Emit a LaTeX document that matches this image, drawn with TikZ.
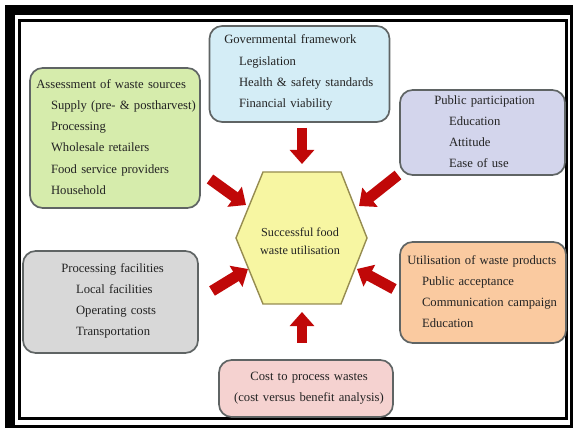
\documentclass[tikz,border=0pt]{standalone}
\usepackage{fontspec}
\setmainfont{Liberation Serif}
\definecolor{assessgreen}{RGB}{214, 236, 172}
\definecolor{govblue}{RGB}{212, 237, 246}
\definecolor{publicpurple}{RGB}{211, 213, 236}
\definecolor{facilgray}{RGB}{216, 216, 216}
\definecolor{utilorange}{RGB}{250, 202, 160}
\definecolor{costpink}{RGB}{245, 210, 208}
\definecolor{hubyellow}{RGB}{247, 246, 162}
\definecolor{hubedge}{RGB}{150, 140, 80}
\definecolor{boxedge}{RGB}{95, 100, 100}
\definecolor{arrowred}{RGB}{192, 8, 8}
\definecolor{inkgray}{RGB}{35, 35, 35}
\usetikzlibrary{shapes, arrows.meta, positioning, calc}
\newcommand{\indentx}{\hspace*{10.5pt}}

\tikzset{
  wastebox/.style={draw=boxedge, line width=1.2pt, rounded corners=9pt, inner sep=0pt},
  boxtext/.style={anchor=west, text width=4.2cm, align=left, inner sep=0pt, text=inkgray, font=\fontsize{9}{15}\selectfont},
  bigarrow/.style={-{Triangle[width=17pt,length=10pt]}, line width=7.8pt, draw=arrowred}
}

\begin{document}
\begin{tikzpicture}
  \useasboundingbox (0,0) rectangle (14.4,10.775);

  % Frame
  \fill[black] (0.125,0.075) rectangle (14.325,10.65);
  \fill[white] (0.375,0.15) rectangle (14.25,10.4);
  \draw[line width=2.1pt] (0.4875,0.3125) rectangle (14.1625,10.2625);

  % Assessment of waste sources
  \node[wastebox, fill=assessgreen, minimum width=4.25cm, minimum height=3.5cm] (assess) at (2.875, 7.325) {};
  \node[boxtext] (assesstext) at (0.9, 7.35) {
    Assessment of waste sources\\
    \indentx Supply (pre- \& postharvest)\\
    \indentx Processing\\
    \indentx Wholesale retailers\\
    \indentx Food service providers\\
    \indentx Household
  };

  % Governmental framework
  \node[wastebox, fill=govblue, minimum width=4.5cm, minimum height=2.4cm] (gov) at (7.4875, 8.925) {};
  \node[boxtext] (govtext) at (5.6, 8.9625) {
    Governmental framework\\
    \indentx Legislation\\
    \indentx Health \& safety standards\\
    \indentx Financial viability
  };

  % Public participation
  \node[wastebox, fill=publicpurple, minimum width=4.125cm, minimum height=2.125cm] (public) at (12.0625, 7.4625) {};
  \node[boxtext] (publictext) at (10.85, 7.4875) {
    Public participation\\
    \indentx Education\\
    \indentx Attitude\\
    \indentx Ease of use
  };

  % Processing facilities
  \node[wastebox, fill=facilgray, minimum width=4.375cm, minimum height=2.55cm] (facil) at (2.7625, 3.225) {};
  \node[boxtext] (faciltext) at (1.525, 3.25) {
    Processing facilities\\
    \indentx Local facilities\\
    \indentx Operating costs\\
    \indentx Transportation
  };

  % Utilisation of waste products
  \node[wastebox, fill=utilorange, minimum width=4.15cm, minimum height=2.525cm] (util) at (12.075, 3.4625) {};
  \node[boxtext] (utiltext) at (10.175, 3.4875) {
    Utilisation of waste products\\
    \indentx Public acceptance\\
    \indentx Communication campaign\\
    \indentx Education
  };

  % Cost to process wastes
  \node[wastebox, fill=costpink, minimum width=4.35cm, minimum height=1.425cm] (cost) at (7.65, 1.0625) {};
  \node[boxtext, anchor=center, align=center] (costtext) at (7.725, 1.0625) {
    Cost to process wastes\\
    (cost versus benefit analysis)
  };

  % Hub
  \draw[draw=hubedge, fill=hubyellow, line width=1pt] (5.9,4.825) -- (6.575,6.475) -- (8.525,6.475) -- (9.175,4.825) -- (8.525,3.175) -- (6.575,3.175) -- cycle;
  \node[align=center, inner sep=0pt, text=inkgray, font=\fontsize{8.7}{13}\selectfont] (hub) at (7.5, 4.75) {Successful food\\waste utilisation};

  % Arrows
  \coordinate (govtail) at (7.55, 7.575);
  \coordinate (govtip) at (7.55, 6.675);
  \coordinate (costtail) at (7.55, 2.2);
  \coordinate (costtip) at (7.55, 2.975);
  \coordinate (assesstail) at (5.25, 6.3);
  \coordinate (assesstip) at (6.15, 5.65);
  \coordinate (publictail) at (9.95, 6.4);
  \coordinate (publictip) at (8.975, 5.625);
  \coordinate (faciltail) at (5.3, 3.5);
  \coordinate (faciltip) at (6.2, 4.05);
  \coordinate (utiltail) at (9.85, 3.55);
  \coordinate (utiltip) at (8.925, 4.05);
  \foreach \src in {gov, cost, assess, public, facil, util}
    \draw[bigarrow] (\src tail) -- (\src tip);
\end{tikzpicture}
\end{document}
